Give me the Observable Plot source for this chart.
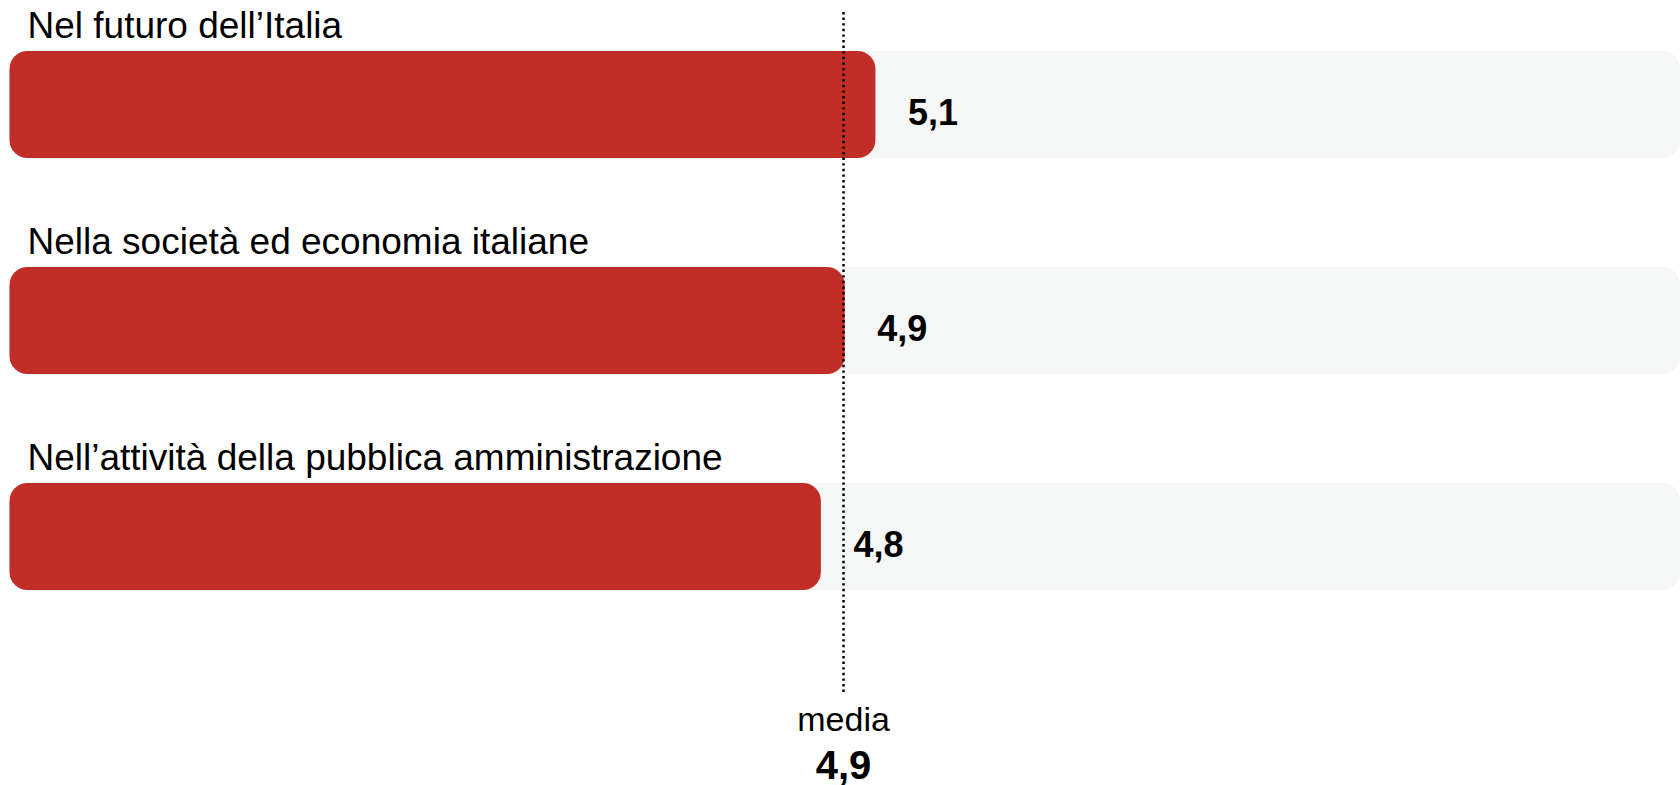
<!DOCTYPE html>
<html>
<head>
<meta charset="utf-8">
<script src="https://cdn.jsdelivr.net/npm/d3@7"></script>
<script src="https://cdn.jsdelivr.net/npm/@observablehq/plot@0.6"></script>
<style>
  html, body { margin: 0; padding: 0; background: #ffffff; }
  #chart { width: 1680px; height: 785px; overflow: hidden; }
</style>
</head>
<body>
<div id="chart"></div>
<script>
// Data
const categories = [
  "Nel futuro dell’Italia",
  "Nella società ed economia italiane",
  "Nell’attività della pubblica amministrazione"
];
const values = [5.08, 4.90, 4.76];
const valueLabels = ["5,1", "4,9", "4,8"];
const meanValue = 4.89;
const meanLabel = "4,9";
const meanTitle = "media";
const scaleMax = 9.8;

const rows = categories.map((c, i) => ({
  category: c,
  value: values[i],
  label: valueLabels[i],
  max: scaleMax
}));
const meanRows = [{v: meanValue, title: meanTitle, label: meanLabel}];

const chart = Plot.plot({
  width: 1680,
  height: 785,
  marginTop: 12,
  marginBottom: 90,
  marginLeft: 0,
  marginRight: 0,
  x: {domain: [0, scaleMax], range: [9.5, 1680], axis: null},
  y: {domain: categories, range: [51, 592], paddingInner: 0.505, paddingOuter: 0, align: 0, axis: null},
  style: {fontFamily: "'Liberation Sans', Arial, sans-serif", background: "#ffffff", color: "#000000", overflow: "visible"},
  marks: [
    Plot.barX(rows, {x1: 0, x2: "max", y: "category", fill: "#f5f6f6", rx: 18, ariaLabel: "background"}),
    Plot.barX(rows, {x1: 0, x2: "value", y: "category", fill: "#c12d27", rx: 18, ariaLabel: "values"}),
    Plot.ruleX(meanRows, {x: "v", stroke: "#000000", strokeWidth: 2.5, strokeDasharray: "2.4,3.2"}),
    Plot.text(rows, {x: "value", y: "category", text: "label", textAnchor: "start", dx: 32, dy: 8,
      fontSize: 36, fontWeight: "bold", fill: "#000000"}),
    Plot.text(rows, {frameAnchor: "left", y: "category", text: "category", textAnchor: "start", dx: 27, dy: -79,
      fontSize: 37, fill: "#000000"}),
    Plot.text(meanRows, {x: "v", text: "title", frameAnchor: "bottom", dy: 35, fontSize: 34, fill: "#000000"}),
    Plot.text(meanRows, {x: "v", text: "label", frameAnchor: "bottom", dy: 83, fontSize: 40, fontWeight: "bold", fill: "#000000"})
  ]
});

// subtle horizontal gradient on the background tracks
const svg = d3.select(chart);
const defs = svg.insert("defs", ":first-child");
const grad = defs.append("linearGradient").attr("id", "trackGrad").attr("x1", "0").attr("x2", "1").attr("y1", "0").attr("y2", "0");
grad.append("stop").attr("offset", "0%").attr("stop-color", "#f9f9f9");
grad.append("stop").attr("offset", "100%").attr("stop-color", "#f1f2f2");
svg.selectAll("g[aria-label='background'] rect").attr("fill", "url(#trackGrad)");

document.getElementById("chart").appendChild(chart);
</script>
</body>
</html>
